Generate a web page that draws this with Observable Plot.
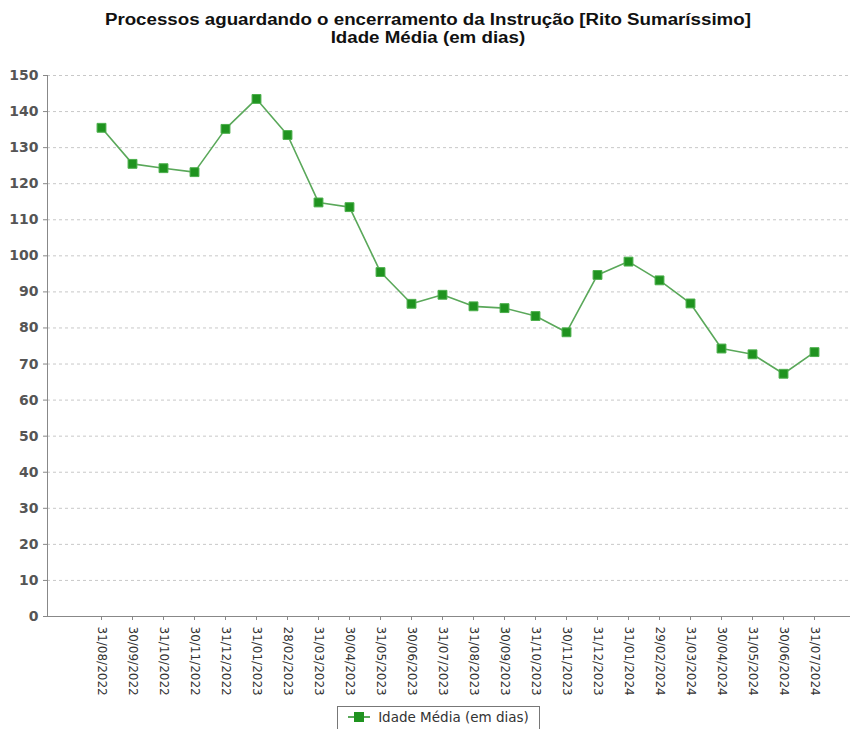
<!DOCTYPE html>
<html>
<head>
<meta charset="utf-8">
<script src="https://cdn.jsdelivr.net/npm/d3@7"></script>
<script src="https://cdn.jsdelivr.net/npm/@observablehq/plot@0.6"></script>
<style>
  body { margin: 0; background: #fff; width: 857px; height: 729px; overflow: hidden; }
  #title { font-family: "Liberation Sans", Arial, sans-serif; font-weight: bold; font-size: 16px; line-height: 18px; text-align: center; padding-top: 11px; height: 36px; color: #111; transform: scaleX(1.17); transform-origin: 432px 0; }
  #chart { height: 659px; }
  #legend { display: flex; justify-content: center; padding-left: 20px; }
  #legend .box { border: 1px solid #777; padding: 2px 10px 5px 10px; font-family: "DejaVu Sans", sans-serif; font-size: 13.5px; color: #333; display: flex; align-items: center; }
  #legend .sym { position: relative; width: 22px; height: 10px; margin-right: 8px; }
  #legend .sym .ln { position: absolute; left: 0; right: 0; top: 4px; height: 2px; background: #5aa85a; }
  #legend .sym .sq { position: absolute; left: 6px; top: 0; width: 10px; height: 10px; background: #1f931f; }
</style>
</head>
<body>
<div id="title">Processos aguardando o encerramento da Instrução [Rito Sumaríssimo]<br>Idade Média (em dias)</div>
<div id="chart"></div>
<div id="legend"><div class="box"><span class="sym"><span class="ln"></span><span class="sq"></span></span><span id="legtext"></span></div></div>
<script>
const dates = ["31/08/2022","30/09/2022","31/10/2022","30/11/2022","31/12/2022","31/01/2023","28/02/2023","31/03/2023","30/04/2023","31/05/2023","30/06/2023","31/07/2023","31/08/2023","30/09/2023","31/10/2023","30/11/2023","31/12/2023","31/01/2024","29/02/2024","31/03/2024","30/04/2024","31/05/2024","30/06/2024","31/07/2024"];
const values = [135.5,125.5,124.3,123.2,135.2,143.5,133.5,114.8,113.5,95.5,86.7,89.2,86,85.5,83.3,78.8,94.7,98.4,93.2,86.8,74.3,72.7,67.3,73.3];
const yTicks = [0,10,20,30,40,50,60,70,80,90,100,110,120,130,140,150];
const seriesName = "Idade Média (em dias)";

document.getElementById("legtext").textContent = seriesName;
const data = dates.map((d, i) => ({date: d, value: values[i]}));

const chart = Plot.plot({
  width: 857,
  height: 659,
  marginTop: 28,
  marginLeft: 47,
  marginRight: 7,
  marginBottom: 90,
  style: {fontFamily: "DejaVu Sans, sans-serif", background: "#fff"},
  x: {type: "point", domain: dates, padding: 0, insetLeft: 43, insetRight: 26, label: null},
  y: {domain: [0, 150], label: null},
  marks: [
    Plot.gridY(yTicks, {stroke: "#c8c8c8", strokeOpacity: 1, strokeDasharray: "3,3"}),
    Plot.frame({anchor: "left", stroke: "#888"}),
    Plot.axisY(yTicks, {tickSize: 4, tickPadding: 5, fontSize: 14, fontWeight: "bold", fill: "#555", stroke: "#888"}),
    Plot.axisX(dates, {tickSize: 4, tickRotate: 90, tickPadding: 6, fontSize: 12, fill: "#333", stroke: "#888"}),
    Plot.ruleY([0], {stroke: "#888"}),
    Plot.line(data, {x: "date", y: "value", stroke: "#5aa85a", strokeWidth: 1.6}),
    Plot.dot(data, {x: "date", y: "value", symbol: "square", r: 5, fill: "#1f931f", stroke: "#4caf4c", strokeWidth: 1})
  ]
});
document.getElementById("chart").appendChild(chart);
</script>
</body>
</html>
